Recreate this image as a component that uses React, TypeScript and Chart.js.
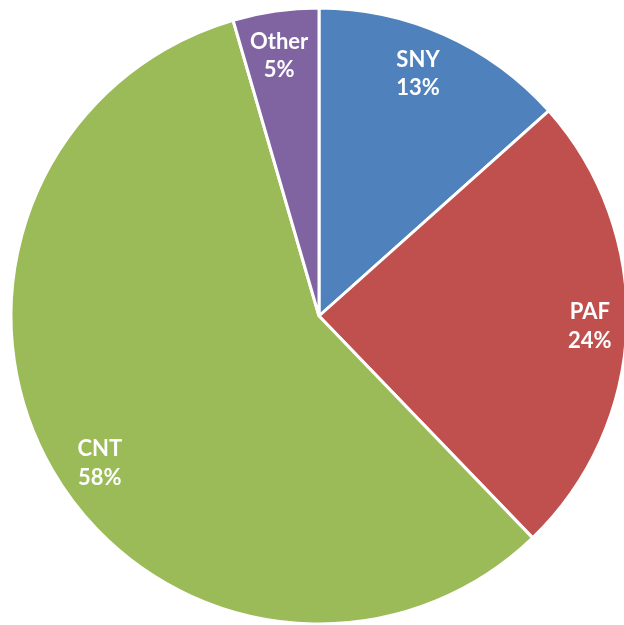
import React, { useEffect, useRef } from "react";
import { Chart, registerables } from "chart.js";

Chart.register(...registerables);

const categories = ["SNY", "PAF", "CNT", "Other"];
const shares = [13.4, 24.4, 57.7, 4.5];
const colors = ["#4F81BD", "#C0504D", "#9BBB59", "#8064A2"];

// label placement tweaks (best-fit style): radius factor and angle shift in degrees
const labelRadius = [0.85, 0.88, 0.857, 0.855];
const labelShift = [-1.9, 0, -3.8, -0.6];

const labelPlugin = {
  id: "sliceLabels",
  afterDatasetsDraw(chart: any) {
    const meta = chart.getDatasetMeta(0);
    const ctx = chart.ctx;
    const total = shares.reduce((a, b) => a + b, 0);
    ctx.save();
    ctx.fillStyle = "#ffffff";
    ctx.font = "bold 22px Lato, 'Open Sans', sans-serif";
    ctx.textAlign = "center";
    ctx.textBaseline = "middle";
    meta.data.forEach((arc: any, i: number) => {
      const p = arc.getProps(["x", "y", "startAngle", "endAngle", "outerRadius"], true);
      const mid = (p.startAngle + p.endAngle) / 2 + (labelShift[i] * Math.PI) / 180;
      const r = p.outerRadius * labelRadius[i];
      const cx = p.x + Math.cos(mid) * r;
      const cy = p.y + Math.sin(mid) * r;
      const pct = Math.round((shares[i] / total) * 100) + "%";
      ctx.fillText(categories[i], cx, cy - 14);
      ctx.fillText(pct, cx, cy + 14.5);
    });
    ctx.restore();
  },
};

export default function App() {
  const ref = useRef<HTMLCanvasElement>(null);
  useEffect(() => {
    if (!ref.current) return;
    const chart = new Chart(ref.current, {
      type: "pie",
      data: {
        labels: categories,
        datasets: [
          {
            data: shares,
            backgroundColor: colors,
            borderColor: "#ffffff",
            borderWidth: 3,
          },
        ],
      },
      options: {
        responsive: false,
        animation: false,
        radius: 308,
        layout: { padding: { left: 11, top: 8, right: 13, bottom: 16 } },
        plugins: {
          legend: { display: false },
          tooltip: { enabled: false },
        },
      } as any,
      plugins: [labelPlugin],
    });
    return () => chart.destroy();
  }, []);
  return (
    <div
      style={{
        position: "fixed",
        left: 0,
        top: 0,
        width: 624,
        height: 625,
        overflow: "hidden",
        background: "#ffffff",
      }}
    >
      <canvas ref={ref} width={640} height={640} style={{ display: "block" }} />
    </div>
  );
}
